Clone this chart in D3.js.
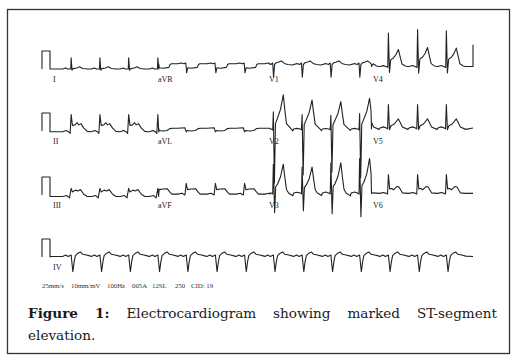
<!DOCTYPE html>
<html>
<head>
<meta charset="utf-8">
<script src="https://cdn.jsdelivr.net/npm/d3@7"></script>
<style>
  body { margin: 0; background: #fff; }
</style>
</head>
<body>
<div id="chart"></div>
<script>
// QRS times (s), same for every lead since they are recorded together
const beatTimes = [0.50, 1.18, 1.86, 2.55, 3.22, 3.91, 4.60, 5.28, 5.96, 6.64, 7.32, 8.00, 8.69, 9.37];

// where each lead column starts / ends (s)
const colBounds = [0, 2.57, 5.2, 7.6, 10];

const rowLeads = [
    ["I", "aVR", "V1", "V4"],
    ["II", "aVL", "V2", "V5"],
    ["III", "aVF", "V3", "V6"]
];
const rhythmLead = "IV";

// baseline of each lead above the row baseline (mV)
const leadOffset = {
    I: 0, aVR: 0.29, V1: 0.25, V4: 0.14,
    II: -0.04, aVL: 0.15, V2: 0.11, V5: 0.17,
    III: -0.08, aVF: 0.05, V3: 0.11, V6: 0.09,
    IV: 0.03
};

// one beat of each lead: [time from QRS (s), mV]
const leadShape = {
    I:   [[-0.2, 0], [-0.13, 0.06], [-0.08, 0], [-0.01, 0], [0, 0.62], [0.02, -0.06], [0.05, 0.02], [0.13, 0.06], [0.2, 0.12], [0.27, 0.03], [0.38, 0]],
    aVR: [[-0.2, 0], [-0.12, 0.04], [-0.05, 0], [-0.01, 0.04], [0.01, -0.5], [0.035, -0.22], [0.12, -0.25], [0.26, -0.2], [0.29, -0.04], [0.32, 0], [0.45, 0]],
    V1:  [[-0.2, 0], [-0.12, 0.05], [-0.06, 0], [-0.015, 0.08], [0.005, -0.7], [0.03, 0], [0.07, 0.1], [0.13, 0.14], [0.19, 0.2], [0.26, 0.06], [0.34, 0], [0.45, -0.03]],
    V4:  [[-0.2, 0], [-0.12, 0.05], [-0.06, 0], [-0.015, -0.05], [0, 1.95], [0.025, -0.35], [0.055, 0.4], [0.12, 0.5], [0.18, 0.7], [0.235, 1.0], [0.27, 0.65], [0.32, 0.15], [0.4, 0.03], [0.46, 0]],
    II:  [[-0.2, 0], [-0.12, 0.07], [-0.06, 0], [-0.025, -0.1], [0, 0.95], [0.03, 0.35], [0.09, 0.38], [0.14, 0.5], [0.18, 0.38], [0.23, 0.45], [0.3, 0.2], [0.38, 0.02], [0.46, 0]],
    aVL: [[-0.2, 0], [-0.03, 0.03], [0, -0.2], [0.03, -0.12], [0.12, -0.15], [0.22, -0.12], [0.28, -0.02], [0.35, 0], [0.46, 0]],
    V2:  [[-0.2, 0], [-0.12, 0.04], [-0.05, 0], [-0.015, -0.05], [0, 0.95], [0.025, -3.0], [0.05, 0.3], [0.09, 0.55], [0.17, 1.1], [0.235, 1.9], [0.27, 1.1], [0.31, 0.3], [0.38, 0.12], [0.46, -0.1]],
    V5:  [[-0.2, 0], [-0.12, 0.06], [-0.05, 0], [-0.02, -0.05], [0, 1.3], [0.025, -0.1], [0.06, 0.12], [0.14, 0.22], [0.235, 0.5], [0.28, 0.3], [0.33, 0.05], [0.46, -0.08]],
    III: [[-0.2, 0], [-0.1, 0.05], [-0.04, -0.08], [0, 0.45], [0.03, 0.25], [0.1, 0.35], [0.16, 0.3], [0.22, 0.38], [0.3, 0.12], [0.38, 0], [0.46, 0]],
    aVF: [[-0.2, 0], [-0.1, 0.05], [-0.03, -0.05], [0, 0.6], [0.03, 0.25], [0.12, 0.28], [0.22, 0.3], [0.28, 0.12], [0.33, 0], [0.46, 0]],
    V3:  [[-0.2, 0], [-0.12, 0.05], [-0.05, 0], [-0.015, -0.05], [0, 1.6], [0.03, -1.1], [0.055, 0.35], [0.1, 0.5], [0.17, 0.9], [0.235, 1.6], [0.27, 0.9], [0.31, 0.2], [0.36, 0], [0.46, -0.15]],
    V6:  [[-0.2, 0], [-0.12, 0.05], [-0.05, 0], [-0.02, -0.04], [0, 1.05], [0.03, 0.25], [0.08, 0.27], [0.12, 0.2], [0.2, 0.38], [0.25, 0.35], [0.33, 0.03], [0.46, 0]],
    IV:  [[-0.2, 0], [-0.13, 0.08], [-0.07, 0], [0, 0.08], [0.04, -0.85], [0.07, -0.3], [0.1, 0.05], [0.16, 0.18], [0.22, 0.25], [0.27, 0.12], [0.36, 0.08], [0.46, 0.02]]
};

// beat-to-beat size changes (order of beats inside the column)
const leadGain = {
    V4: [0.95, 1.05, 1.02],
    V2: [1.0, 0.85, 0.8, 0.9],
    V3: [1.0, 0.9, 1.05, 1.2]
};

// 1 mV calibration pulse, [s, mV]
const calPulse = [[-0.19, 0], [-0.19, 1], [0, 1], [0, 0]];
// marker at the end of each row (mV), 0 = none
const endMarks = [1.35, 0, 0, 0];

const footerItems = ["25mm/s", "10mm/mV", "100Hz", "005A", "12SL", "250", "CID: 19"];
const captionLines = [
    ["Figure", "1:", "Electrocardiogram", "showing", "marked", "ST-segment"],
    ["elevation."]
];
const boldWords = 2;

// ---------------------------------------------------------------
var width = 523, height = 364;
var rowBase = [69, 131, 195, 257];   // pixel baseline of each row
var pxPerMv = 18;
var traceColor = "#222";

var svg = d3.select("#chart")
    .append("svg")
    .attr("width", width)
    .attr("height", height);

svg.append("rect")
    .attr("x", 7.5).attr("y", 9.5)
    .attr("width", 502).attr("height", 344)
    .attr("fill", "none")
    .attr("stroke", "#333")
    .attr("stroke-width", 1.3);

var x = d3.scaleLinear().domain([0, 10]).range([50, 473]);

function leadPoints(lead, t0, t1) {
    var off = leadOffset[lead];
    var pts = [[t0, off]];
    var k = 0;
    beatTimes.forEach(bt => {
        if (bt + 0.46 < t0 || bt - 0.2 > t1) return;
        var inCol = bt >= t0 && bt <= t1;
        var g = (leadGain[lead] && inCol) ? (leadGain[lead][k] || 1) : 1;
        if (inCol) k++;
        leadShape[lead].forEach(p => {
            var t = bt + p[0];
            if (t > t0 && t < t1) pts.push([t, off + p[1] * g]);
        });
    });
    pts.push([t1, off]);
    return pts;
}

var line = d3.line()
    .x(d => x(d[0]));

function drawRow(r, leads, bounds) {
    var y = d3.scaleLinear().domain([0, 1]).range([rowBase[r], rowBase[r] - pxPerMv]);
    var pts = calPulse.map(d => d.slice());
    leads.forEach((lead, i) => {
        pts = pts.concat(leadPoints(lead, bounds[i], bounds[i + 1]));
    });
    if (endMarks[r]) {
        var last = pts[pts.length - 1];
        pts.push([last[0], endMarks[r]]);
    }
    svg.append("path")
        .datum(pts)
        .attr("fill", "none")
        .attr("stroke", traceColor)
        .attr("stroke-width", 1.1)
        .attr("stroke-linejoin", "round")
        .attr("d", line.y(d => y(d[1])));

    var labelX = [53, 158, 269, 373];
    leads.forEach((lead, i) => {
        svg.append("text")
            .attr("x", labelX[i])
            .attr("y", rowBase[r] + 12.5)
            .attr("font-family", "Liberation Serif, serif")
            .attr("font-size", 8)
            .attr("fill", "#222")
            .text(lead);
    });
}

rowLeads.forEach((leads, r) => drawRow(r, leads, colBounds));
drawRow(3, [rhythmLead], [0, 10]);

// recorder settings line
var footerX = [42, 71, 107, 132, 152, 175, 191];
footerItems.forEach((s, i) => {
    svg.append("text")
        .attr("x", footerX[i])
        .attr("y", 288)
        .attr("font-family", "Liberation Serif, serif")
        .attr("font-size", 6.8)
        .attr("fill", "#333")
        .text(s);
});

// justified caption
var capLeft = 28, capRight = 497, capY = [317.5, 340];
var wi = 0;
captionLines.forEach((words, li) => {
    var nodes = words.map(w => {
        var bold = wi++ < boldWords;
        return svg.append("text")
            .attr("y", capY[li])
            .attr("font-family", "DejaVu Serif, serif")
            .attr("font-size", 13.6)
            .attr("font-weight", bold ? "bold" : "normal")
            .attr("fill", "#1a1a1a")
            .text(w);
    });
    var widths = nodes.map(n => n.node().getComputedTextLength());
    var gap = li < captionLines.length - 1 && nodes.length > 1
        ? (capRight - capLeft - d3.sum(widths)) / (nodes.length - 1)
        : 4;
    var cx = capLeft;
    nodes.forEach((n, i) => {
        n.attr("x", cx);
        cx += widths[i] + gap;
    });
});
</script>
</body>
</html>
